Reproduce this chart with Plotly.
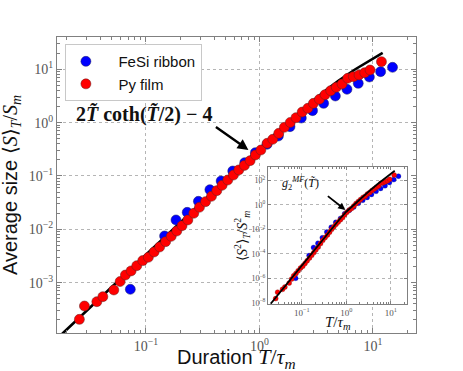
import plotly.graph_objects as go

# --- data ---
# Py film (red), main panel: duration T/tau_m and mean size <S>_T/S_m
red_T = [0.0259, 0.0287, 0.0369, 0.0417, 0.0521, 0.0592, 0.0659, 0.0740, 0.0830, 0.0937,
         0.105, 0.118, 0.132, 0.149, 0.167, 0.187, 0.208, 0.234, 0.264, 0.296,
         0.335, 0.378, 0.421, 0.469, 0.526, 0.590, 0.658, 0.738, 0.828, 0.922,
         1.03, 1.17, 1.31, 1.48, 1.66, 1.87, 2.10, 2.38, 2.67, 2.99,
         3.38, 3.79, 4.25, 4.76, 5.35, 6.00, 6.73, 7.55, 8.47, 9.44, 11.9]
red_S = [2.05e-4, 3.65e-4, 4.4e-4, 5.46e-4, 7.29e-4, 1.05e-3, 1.39e-3, 1.66e-3, 2.08e-3, 2.59e-3,
         2.99e-3, 3.76e-3, 4.67e-3, 5.87e-3, 7.39e-3, 9.3e-3, 0.0117, 0.0150, 0.0200, 0.0259,
         0.0330, 0.0416, 0.0531, 0.0668, 0.0841, 0.104, 0.130, 0.158, 0.194, 0.248,
         0.307, 0.410, 0.487, 0.63, 0.818, 1.01, 1.24, 1.58, 1.86, 2.30,
         2.74, 3.35, 3.98, 4.60, 5.31, 6.78, 7.29, 7.83, 8.66, 9.71, 13.9]
# inset: <S^2>_T/S_m^2
red_S2 = [2.3e-8, 7.6e-8, 1.3e-7, 2.0e-7, 4.2e-7, 8.9e-7, 1.7e-6, 2.6e-6, 4.3e-6, 7.1e-6,
          1.0e-5, 1.7e-5, 2.8e-5, 4.7e-5, 7.8e-5, 1.3e-4, 2.2e-4, 3.7e-4, 7.1e-4, 1.3e-3,
          2.2e-3, 3.6e-3, 6.0e-3, 0.0102, 0.017, 0.027, 0.040, 0.062, 0.093, 0.162,
          0.25, 0.39, 0.52, 0.83, 1.32, 1.9, 2.75, 4.1, 5.2, 7.9,
          10.5, 15.1, 20.4, 27.5, 35.5, 57.5, 66, 78, 95, 126, 282]

# FeSi ribbon (blue)
blue_T = [0.0728, 0.146, 0.184, 0.231, 0.290, 0.366, 0.460, 0.582, 0.743, 0.922, 1.168,
          1.47, 1.86, 2.34, 2.94, 3.68, 4.67, 5.91, 7.43, 9.31, 11.7, 14.9]
blue_S = [7.5e-4, 7.5e-3, 0.015, 0.0208, 0.0335, 0.0554, 0.0806, 0.124, 0.178, 0.274, 0.393,
          0.562, 0.841, 1.22, 1.68, 2.30, 3.16, 4.22, 5.46, 7.18, 9.04, 10.9]
blue_S2 = [1.05e-6, 7.4e-5, 3.4e-4, 7.4e-4, 2.1e-3, 6.3e-3, 0.015, 0.038, 0.079, 0.195, 0.37,
           0.68, 1.35, 2.45, 4.1, 7.2, 12.9, 22.4, 37, 68, 117, 224]

# black theory curves, sampled along the drawn lines
theory_T = [0.0183, 0.03, 0.05, 0.1, 0.2, 0.3, 0.5, 0.7, 1.0, 1.5, 2.0, 3.0, 4.0, 5.0, 7.0, 9.0, 12.2]
theory_S = [1.1e-4, 3.0e-4, 8.33e-4, 3.33e-3, 0.0133, 0.030, 0.083, 0.162, 0.328, 0.723,
            1.252, 2.63, 4.30, 6.14, 10.03, 14.0, 20.4]
g2_T = [0.020, 0.03, 0.05, 0.1, 0.2, 0.3, 0.5, 0.7, 1.0, 1.4, 2.0, 3.0, 5.0, 8.0, 12.3]
g2_S2 = [8.7e-9, 5.3e-8, 5.2e-7, 1.2e-5, 2.8e-4, 1.7e-3, 0.0166, 0.065, 0.28, 0.865,
         2.8, 10.0, 49, 183, 617]

SERIF = "Liberation Serif"
SANS = "Liberation Sans"
FRAME = "#808080"
GRID = "#b5b5b5"


def pow_label(e):
    s = str(e).replace("-", "\u2212")
    return "10<sup>%s</sup>" % s


def minor_vals(lo, hi):
    return [m * 10.0 ** d for d in range(lo, hi) for m in range(2, 10)]


fig = go.Figure()

# main panel
fig.add_trace(go.Scatter(x=theory_T, y=theory_S, mode="lines",
                         line=dict(color="black", width=2.6), showlegend=False))
fig.add_trace(go.Scatter(x=blue_T, y=blue_S, mode="markers", name="\u00a0\u00a0\u00a0FeSi ribbon",
                         marker=dict(color="#0000ff", size=10, line=dict(color="#202060", width=0.5))))
fig.add_trace(go.Scatter(x=red_T, y=red_S, mode="markers", name="\u00a0\u00a0\u00a0Py film",
                         marker=dict(color="#ff0000", size=10, line=dict(color="#602020", width=0.5))))

# inset
fig.add_trace(go.Scatter(x=blue_T, y=blue_S2, mode="markers", xaxis="x2", yaxis="y2",
                         marker=dict(color="#0000ff", size=5, line=dict(color="#202060", width=0.3)),
                         showlegend=False))
fig.add_trace(go.Scatter(x=red_T, y=red_S2, mode="markers", xaxis="x2", yaxis="y2",
                         marker=dict(color="#ff0000", size=5, line=dict(color="#602020", width=0.3)),
                         showlegend=False))
fig.add_trace(go.Scatter(x=g2_T, y=g2_S2, mode="lines", xaxis="x2", yaxis="y2",
                         line=dict(color="black", width=1.8), showlegend=False))

axis_common = dict(type="log", showline=True, linecolor=FRAME, linewidth=1.2, mirror="allticks",
                   ticks="inside", tickcolor=FRAME, showgrid=True, gridcolor=GRID, griddash="dot",
                   gridwidth=1, zeroline=False)

fig.update_layout(
    width=463, height=371,
    margin=dict(l=57, r=47, t=37, b=38),
    paper_bgcolor="white", plot_bgcolor="white",
    xaxis=dict(axis_common, range=[-1.784, 1.38], domain=[0, 1],
               tickvals=[0.1, 1, 10], ticktext=[pow_label(-1), pow_label(0), pow_label(1)],
               ticklen=5, tickfont=dict(family=SERIF, size=14, color="#555"),
               minor=dict(ticks="inside", ticklen=2.5, tickcolor=FRAME, tickvals=minor_vals(-2, 2), showgrid=False)),
    yaxis=dict(axis_common, range=[-3.944, 1.606], domain=[0, 1],
               tickvals=[1e-3, 1e-2, 1e-1, 1, 10],
               ticktext=[pow_label(-3), pow_label(-2), pow_label(-1), pow_label(0), pow_label(1)],
               ticklen=5, tickfont=dict(family=SERIF, size=14, color="#555"),
               minor=dict(ticks="inside", ticklen=2.5, tickcolor=FRAME, tickvals=minor_vals(-4, 2), showgrid=False)),
    xaxis2=dict(axis_common, anchor="y2", range=[-1.757, 1.366], domain=[0.588, 0.975],
                tickvals=[0.1, 1, 10], ticktext=[pow_label(-1), pow_label(0), pow_label(1)],
                ticklen=3, tickfont=dict(family=SERIF, size=9, color="#555"),
                minor=dict(ticks="inside", ticklen=1.5, tickcolor=FRAME, tickvals=minor_vals(-2, 2), showgrid=False)),
    yaxis2=dict(axis_common, anchor="x2", range=[-8.08, 3.1], domain=[0.098, 0.561],
                tickvals=[1e-8, 1e-6, 1e-4, 1e-2, 1, 100],
                ticktext=[pow_label(-8), pow_label(-6), pow_label(-4), pow_label(-2), pow_label(0), pow_label(2)],
                ticklen=3, tickfont=dict(family=SERIF, size=8, color="#555")),
    legend=dict(x=0.022, y=0.976, xanchor="left", yanchor="top",
                bgcolor="white", bordercolor="#c8c8c8", borderwidth=1,
                font=dict(family=SANS, size=15, color="#111"),
                tracegroupgap=0, itemwidth=30),
)

math_span = '<span style="font-family:%s">' % SERIF
fig.add_annotation(xref="paper", yref="paper", x=-0.128, y=0.5, textangle=-90,
                   showarrow=False, xanchor="center", yanchor="middle",
                   font=dict(family=SANS, size=20, color="#111"),
                   text="Average size " + math_span + '<span style="font-size:20px">\u27e8<i>S</i>\u27e9<sub><i>T</i></sub>/<i>S<sub>m</sub></i></span></span>')
fig.add_annotation(xref="paper", yref="paper", x=0.5, y=-0.083,
                   showarrow=False, xanchor="center", yanchor="middle",
                   font=dict(family=SANS, size=20, color="#111"),
                   text="Duration " + math_span + '<span style="font-size:22px"><i>T</i>/<i>\u03c4<sub>m</sub></i></span></span>')

# formula label + arrow (main)
fig.add_annotation(xref="paper", yref="paper", x=(144 - 57) / 359, y=(333 - 115) / 296,
                   showarrow=False, xanchor="center", yanchor="middle",
                   font=dict(family=SERIF, size=20, color="#111"),
                   text="<b>2<i>T\u0303</i> coth(<i>T\u0303</i>/2) \u2212 4</b>")
fig.add_annotation(xref="x", yref="y", x=-0.097, y=-0.512, ax=-34, ay=-24, text="",
                   showarrow=True, arrowhead=2, arrowsize=0.9, arrowwidth=2.4, arrowcolor="black")

# inset labels
fig.add_annotation(xref="paper", yref="paper", x=(338 - 57) / 359, y=(333 - 323) / 296,
                   showarrow=False, xanchor="center", yanchor="middle",
                   font=dict(family=SERIF, size=15, color="#111"),
                   text="<i>T</i>/<i>\u03c4<sub>m</sub></i>")
fig.add_annotation(xref="paper", yref="paper", x=(242 - 57) / 359, y=(333 - 236) / 296, textangle=-90,
                   showarrow=False, xanchor="center", yanchor="middle",
                   font=dict(family=SERIF, size=14, color="#111"),
                   text="\u27e8<i>S</i><sup>2</sup>\u27e9<sub><i>T</i></sub>/<i>S</i><sup>2</sup><sub><i>m</i></sub>")
fig.add_annotation(xref="paper", yref="paper", x=(300 - 57) / 359, y=(333 - 183) / 296,
                   showarrow=False, xanchor="center", yanchor="middle",
                   font=dict(family=SERIF, size=12, color="#111"),
                   text="<i>g</i><sub>2</sub><sup><i>MF</i></sup>(<i>T\u0303</i>)")
fig.add_annotation(xref="x2", yref="y2", x=-0.02, y=-0.41, ax=-19, ay=-15, text="",
                   showarrow=True, arrowhead=2, arrowsize=0.8, arrowwidth=1.8, arrowcolor="black")

# drop the default page margin so the figure sits at the window's corner
fig.write_html("out.html", config={"displayModeBar": False},
               post_script="document.body.style.margin='0';")
